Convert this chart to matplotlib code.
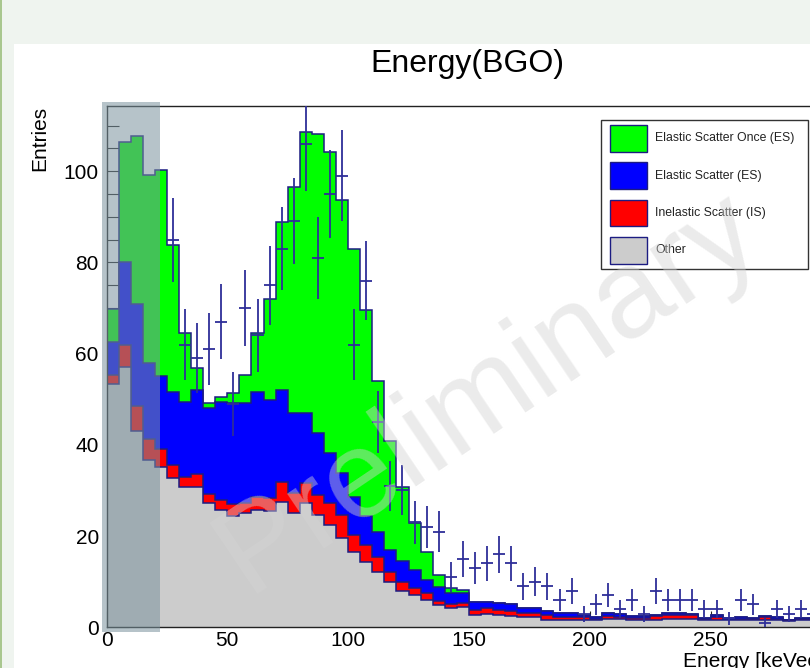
import numpy as np
import matplotlib
matplotlib.use('Agg')
import matplotlib.pyplot as plt
from matplotlib.patches import Rectangle
from matplotlib.ticker import MultipleLocator, FixedLocator

plt.rcParams['font.family'] = ['Liberation Sans', 'DejaVu Sans']

W, H = 810, 668

# histogram binning (keV)
bin_width = 5.0
edges = np.arange(61) * bin_width

# MC components, entries per bin (bottom of stack first)
other = [53.3, 57.1, 43.1, 36.7, 35.2, 32.7, 30.7, 30.7, 27.2, 25.7,
         24.3, 25.0, 25.7, 25.4, 27.5, 25.0, 27.2, 24.6, 22.4, 19.5,
         16.6, 14.4, 12.2, 10.0, 8.0, 7.1, 6.0, 4.9, 4.2, 4.4,
         2.7, 2.9, 2.6, 2.4, 2.3, 2.2, 1.7, 1.6, 1.6, 1.5,
         1.6, 1.8, 1.8, 1.6, 1.6, 1.7, 1.9, 1.9, 1.8, 1.5,
         1.7, 1.5, 1.6, 1.5, 1.5, 1.6, 1.3, 1.5, 1.5, 1.4]
inelastic = [2.0, 4.8, 5.5, 4.6, 3.9, 2.9, 2.3, 2.9, 2.0, 2.2,
             2.7, 2.2, 2.9, 2.9, 4.4, 4.4, 4.4, 4.4, 4.8, 5.1,
             3.6, 3.6, 3.3, 2.2, 2.0, 1.5, 1.5, 0.9, 0.9, 1.0,
             1.1, 1.3, 1.2, 1.2, 0.9, 1.0, 1.0, 0.7, 0.7, 0.7,
             0.3, 0.6, 0.5, 0.5, 0.5, 0.8, 0.8, 0.8, 0.8, 0.3,
             0.5, 0.2, 0.3, 0.3, 0.8, 0.3, 0.3, 0.3, 0.3, 0.3]
elastic = [7.3, 18.1, 22.3, 16.6, 16.0, 16.1, 16.5, 18.4, 18.8, 21.6,
           22.1, 21.9, 23.1, 21.5, 20.1, 17.5, 15.3, 13.5, 11.0, 9.2,
           8.4, 6.5, 5.5, 4.8, 4.6, 4.0, 2.9, 3.0, 2.5, 2.1,
           1.8, 1.4, 1.5, 1.4, 1.0, 1.0, 0.8, 0.9, 0.8, 0.5,
           0.4, 0.7, 0.6, 0.4, 0.4, 0.2, 0.4, 0.4, 0.4, 0.2,
           0.5, 0.3, 0.3, 0.2, 0.2, 0.3, 0.1, 0.2, 0.2, 0.3]
elastic_once = [7.1, 26.5, 36.9, 41.3, 45.2, 32.1, 15.1, 4.8, 1.1, 1.1,
                2.2, 6.2, 12.8, 22.1, 36.9, 49.7, 61.8, 65.7, 66.0, 59.9,
                54.4, 45.1, 32.9, 23.8, 16.2, 10.2, 6.1, 2.7, 1.1, 0.6,
                0, 0, 0, 0, 0, 0, 0, 0, 0, 0,
                0, 0, 0, 0, 0, 0, 0, 0, 0, 0,
                0, 0, 0, 0, 0, 0, 0, 0, 0, 0]

# measured data, starting at bin 5 (25 keV)
data_first_bin = 5
data_counts = [85, 62, 59, 61, 67, 49, 70, 64, 75, 83,
               89, 106, 81, 95, 99, 62, 76, 45, 31, 30,
               23, 22, 21, 11, 15, 13, 14, 16, 14, 9,
               10, 9, 6, 8, 3, 5, 7, 4, 6, 3,
               8, 6, 6, 6, 4, 4, 2, 6, 5, 1,
               4, 3, 4, 3, 2]

labels = ['Other', 'Inelastic Scatter (IS)', 'Elastic Scatter (ES)', 'Elastic Scatter Once (ES)']
colors = ['#cccccc', '#ff0000', '#0000ff', '#00ff00']
navy = '#1c1c82'


def fx(px):
    return px / W


def fy(py):
    return 1 - py / H


fig = plt.figure(figsize=(W / 100, H / 100), dpi=100, facecolor='#eff4ef')

# white panel + left green border of the screenshot
fig.add_artist(Rectangle((fx(14), 0), 1, fy(44), transform=fig.transFigure,
                         facecolor='white', lw=0, zorder=-2))
fig.add_artist(Rectangle((0, 0), fx(1.6), 1, transform=fig.transFigure,
                         facecolor='#a9c78f', lw=0, zorder=-2))

ax = fig.add_axes([fx(106.5), fy(627.3), 724.8 / W, 521.3 / H])
ax.set_xlim(0, 300)
ax.set_ylim(0, 114.3)

# stacked histograms, tallest drawn first
stack = np.cumsum(np.array([other, inelastic, elastic, elastic_once]), axis=0)
for i in range(3, -1, -1):
    ax.stairs(stack[i], edges, baseline=0, fill=True, facecolor=colors[i],
              edgecolor=navy, lw=1.1, zorder=2 + (3 - i) * 0.1)

counts = np.array(data_counts, dtype=float)
centers = edges[data_first_bin:data_first_bin + len(counts)] + bin_width / 2
ax.errorbar(centers, counts, xerr=bin_width / 2, yerr=np.sqrt(counts), fmt='none',
            ecolor='#2e2e98', elinewidth=1.3, capsize=0, zorder=5)

ax.xaxis.set_major_locator(FixedLocator([0, 50, 100, 150, 200, 250]))
ax.xaxis.set_minor_locator(MultipleLocator(10))
ax.yaxis.set_major_locator(MultipleLocator(20))
ax.yaxis.set_minor_locator(MultipleLocator(5))
ax.tick_params(axis='both', which='both', direction='in', color='#222222', width=0.8,
               top=False, right=False, labelsize=15)
ax.tick_params(axis='y', which='major', length=15.5, pad=5.5)
ax.tick_params(axis='y', which='minor', length=8.4)
ax.tick_params(axis='x', which='major', length=11.5, pad=3)
ax.tick_params(axis='x', which='minor', length=6.5)
for s in ax.spines.values():
    s.set_linewidth(1.0)
    s.set_color('#222222')

fig.text(fx(467), fy(64), 'Energy(BGO)', ha='center', va='center', fontsize=23)
fig.text(fx(40), fy(106), 'Entries', rotation=90, ha='center', va='top', fontsize=15)
fig.text(fx(683), fy(652), 'Energy [keVee]', ha='left', va='top', fontsize=15)

# legend box
fig.add_artist(Rectangle((fx(601), fy(269)), (808 - 601) / W, (269 - 120) / H,
                         transform=fig.transFigure, facecolor='white',
                         edgecolor='#333333', lw=1, zorder=2))
rows = [138.3, 175.5, 213.0, 250.3]
for yc, i in zip(rows, [3, 2, 1, 0]):
    fig.add_artist(Rectangle((fx(610), fy(yc + 13.3)), 37 / W, 26.7 / H,
                             transform=fig.transFigure, facecolor=colors[i],
                             edgecolor=navy, lw=1, zorder=2.1))
    fig.text(fx(655), fy(yc), labels[i], ha='left', va='center', fontsize=8.8,
             color='#222222', zorder=2.2)

fig.text(fx(488), fy(392), 'Preliminary', rotation=34, rotation_mode='anchor',
         ha='center', va='center', fontsize=90, color='#d4d4d4', alpha=0.45, zorder=3)

# grey overlay over the low-energy region
fig.add_artist(Rectangle((fx(101.7), fy(631.5)), (160 - 101.7) / W, (631.5 - 102) / H,
                         transform=fig.transFigure, facecolor='#7a939d', alpha=0.55,
                         lw=0, zorder=4))

fig.savefig('out.png', dpi=100, facecolor=fig.get_facecolor())
